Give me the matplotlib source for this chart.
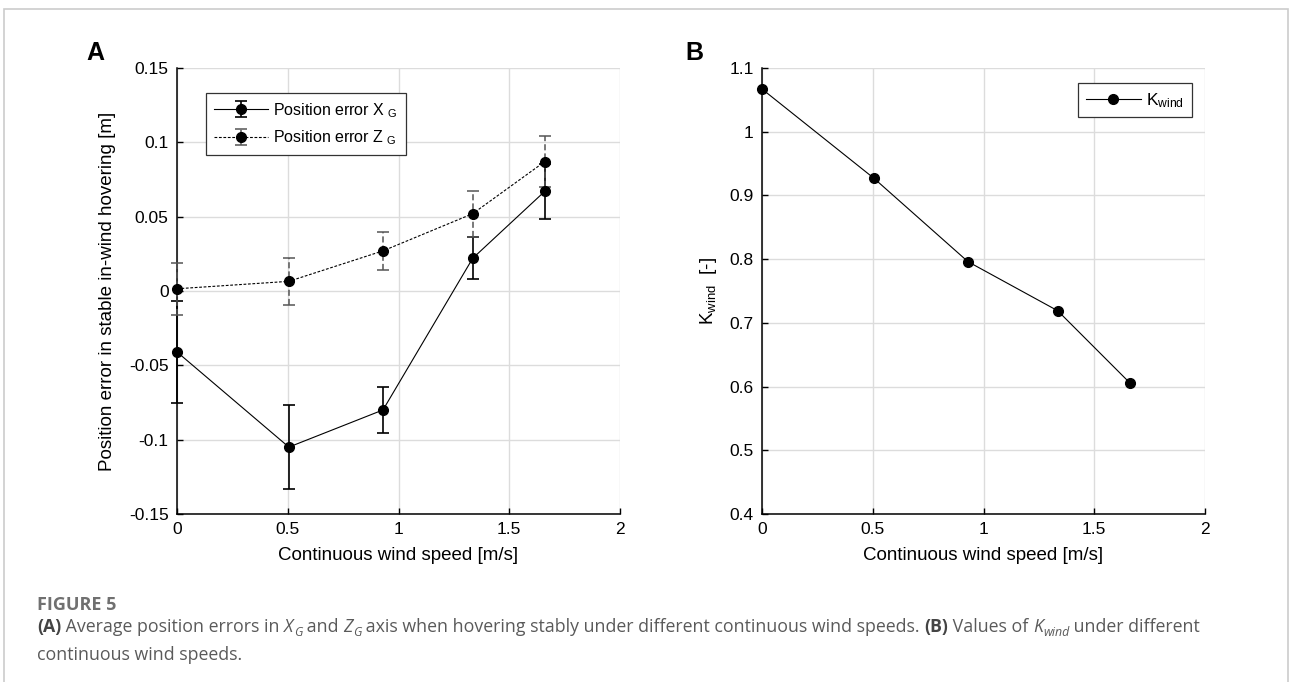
import numpy as np
import matplotlib
matplotlib.use("Agg")
import matplotlib.pyplot as plt
from matplotlib.patches import Rectangle
from matplotlib.ticker import FuncFormatter

plt.rcParams['font.family'] = ['Liberation Sans', 'DejaVu Sans']
plt.rcParams['mathtext.fontset'] = 'custom'
plt.rcParams['mathtext.rm'] = 'Liberation Sans'
plt.rcParams['mathtext.it'] = 'Liberation Sans:italic'
plt.rcParams['axes.unicode_minus'] = False

# data
wind_speed = [0.0, 0.505, 0.93, 1.335, 1.66]
err_x_mean = [-0.041, -0.105, -0.080, 0.022, 0.067]
err_x_std = [0.0345, 0.0285, 0.0155, 0.014, 0.0185]
err_z_mean = [0.0015, 0.0065, 0.027, 0.052, 0.087]
err_z_std = [0.0175, 0.016, 0.0128, 0.0155, 0.017]
k_wind = [1.067, 0.927, 0.796, 0.719, 0.606]

W, H = 1290, 682
fig = plt.figure(figsize=(W / 100, H / 100), dpi=100)

# axes placement in pixels: left, right, top, bottom
def px_axes(l, r, t, b):
    return fig.add_axes([l / W, 1 - b / H, (r - l) / W, (b - t) / H])

axA = px_axes(177, 620, 68, 514)
axB = px_axes(762, 1205, 68, 514)

fmt = FuncFormatter(lambda v, p: ('%g' % round(v, 4)))
for ax in (axA, axB):
    ax.spines['top'].set_visible(False)
    ax.spines['right'].set_visible(False)
    ax.spines['left'].set_linewidth(1.1)
    ax.spines['bottom'].set_linewidth(1.1)
    ax.grid(True, color='#dcdcdc', lw=1.0)
    ax.set_axisbelow(True)
    ax.tick_params(direction='in', length=4, width=1, labelsize=12.5, pad=6)
    ax.set_xlim(0, 2)
    ax.set_xticks([0, 0.5, 1, 1.5, 2])
    ax.xaxis.set_major_formatter(fmt)
    ax.yaxis.set_major_formatter(fmt)
    ax.set_xlabel('Continuous wind speed [m/s]', fontsize=13.5)
    ax.xaxis.set_label_coords(0.5, -0.075)

# --- panel A
ex = axA.errorbar(wind_speed, err_x_mean, yerr=err_x_std, color='black', lw=0.8,
                  marker='o', ms=7, elinewidth=1.2, capsize=4, capthick=1.2,
                  label='Position error X $_{\\mathrm{G}}$', clip_on=False, zorder=3)
ez = axA.errorbar(wind_speed, err_z_mean, yerr=err_z_std, color='black', lw=0.8,
                  ls=(0, (2.5, 1.5)), marker='o', ms=7, ecolor='#555555',
                  elinewidth=1.1, capsize=4, capthick=1.1,
                  label='Position error Z $_{\\mathrm{G}}$', clip_on=False, zorder=3)
ez[2][0].set_linestyle((0, (4, 2)))
for art in list(ex[1]) + list(ex[2]) + list(ez[1]) + list(ez[2]):
    art.set_clip_on(False)
axA.set_ylim(-0.15, 0.15)
axA.set_yticks(np.arange(-0.15, 0.151, 0.05))
axA.set_ylabel('Position error in stable in-wind hovering [m]', fontsize=13.5)
axA.yaxis.set_label_coords(-0.138, 0.5)
legA = axA.legend(loc='upper left', bbox_to_anchor=(0.065, 0.944), fontsize=11.5,
                  handlelength=3.4, fancybox=False, framealpha=1,
                  edgecolor='#333333', borderpad=0.5, labelspacing=0.55,
                  handletextpad=0.3, borderaxespad=0)
legA.get_frame().set_linewidth(0.9)

# --- panel B
axB.plot(wind_speed, k_wind, color='black', lw=0.8, marker='o', ms=7,
         label='K$_{\\mathrm{wind}}$', clip_on=False, zorder=3)
axB.set_ylim(0.4, 1.1)
axB.set_yticks(np.arange(0.4, 1.101, 0.1))
axB.set_ylabel('K$_{\\mathrm{wind}}$  [-]', fontsize=13.5)
axB.yaxis.set_label_coords(-0.097, 0.5)
legB = axB.legend(loc='upper right', bbox_to_anchor=(0.971, 0.966), fontsize=12.5,
                  handlelength=3.2, fancybox=False, framealpha=1,
                  edgecolor='#333333', borderpad=0.45, handletextpad=0.3,
                  borderaxespad=0)
legB.get_frame().set_linewidth(0.9)

fig.text(86 / W, 1 - 60 / H, 'A', fontsize=18, fontweight='bold', va='baseline')
fig.text(685 / W, 1 - 60 / H, 'B', fontsize=18, fontweight='bold', va='baseline')

# outer frame
fig.patches.append(Rectangle((4 / W, -0.02), 1284 / W, 1 - 9 / H + 0.02,
                             transform=fig.transFigure, fill=False,
                             edgecolor='#cccccc', lw=1.2))

# caption, written as runs of differently styled text
cap_color = '#5a5a5a'
fig.text(37 / W, 1 - 610 / H, 'FIGURE 5', fontsize=13, fontweight='bold',
         color='#707070', family='Open Sans', va='baseline')

renderer = fig.canvas.get_renderer()

def write_runs(x, y, runs, size=12.8):
    for txt, style in runs:
        kw = dict(fontsize=size, color=cap_color, family='Open Sans', va='baseline')
        yy = y
        if 'b' in style:
            kw['fontweight'] = 'bold'
            kw['color'] = '#444444'
        if 'i' in style:
            kw['fontstyle'] = 'italic'
        if 's' in style:
            kw['fontsize'] = size * 0.7
            yy = y + 4
        t = fig.text(x / W, 1 - yy / H, txt, **kw)
        x += t.get_window_extent(renderer).width

write_runs(37, 632, [
    ('(A)', 'b'), (' Average position errors in ', ''), ('X', 'i'), ('G', 'is'),
    (' and ', ''), ('Z', 'i'), ('G', 'is'),
    (' axis when hovering stably under different continuous wind speeds. ', ''),
    ('(B)', 'b'), (' Values of ', ''), ('K', 'i'), ('wind', 'is'),
    (' under different', '')])
write_runs(37, 660, [('continuous wind speeds.', '')])

fig.savefig('out.png', dpi=100)
